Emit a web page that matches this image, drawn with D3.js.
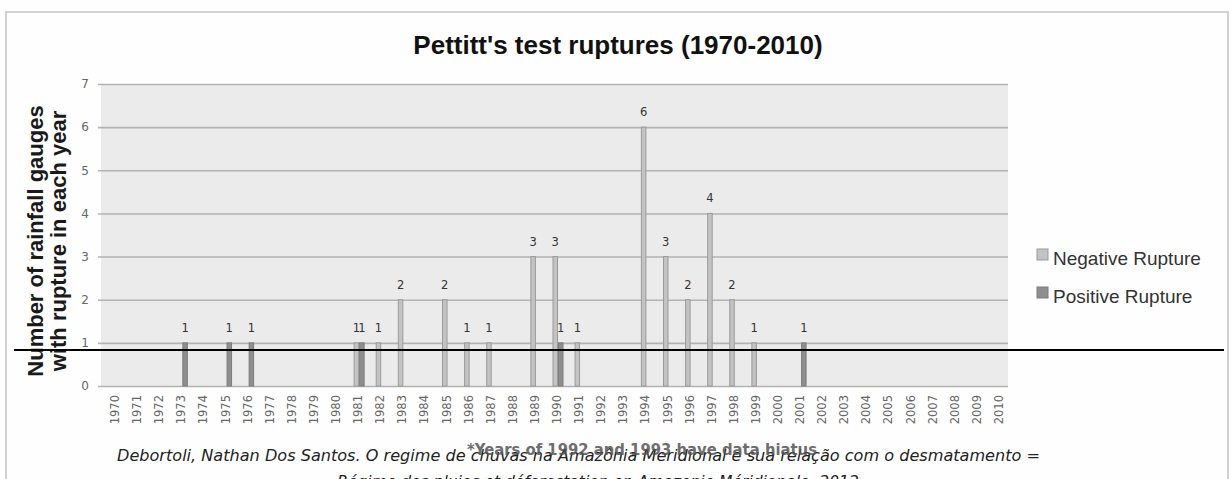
<!DOCTYPE html>
<html>
<head>
<meta charset="utf-8">
<script src="https://cdn.jsdelivr.net/npm/d3@7"></script>
<style>
  html, body { margin: 0; padding: 0; background: #fff; }
  svg { display: block; }
</style>
</head>
<body>
<svg id="chart" width="1232" height="479"></svg>
<script>
// categories (x axis tick labels)
const years = ["1970","1971","1972","1973","1974","1975","1976","1977","1978","1979",
  "1980","1981","1982","1983","1984","1985","1986","1987","1988","1989",
  "1990","1991","1992","1993","1994","1995","1996","1997","1998","1999",
  "2000","2001","2002","2003","2004","2005","2006","2007","2008","2009","2010"];

// series: years with a rupture and the number of gauges
const negativeYears  = ["1981","1982","1983","1985","1986","1987","1989","1990","1991","1994","1995","1996","1997","1998","1999"];
const negativeValues = [1, 1, 2, 2, 1, 1, 3, 3, 1, 6, 3, 2, 4, 2, 1];
const positiveYears  = ["1973","1975","1976","1981","1990","2001"];
const positiveValues = [1, 1, 1, 1, 1, 1];

const seriesNames = ["Negative Rupture", "Positive Rupture"];
const yTicks = [0, 1, 2, 3, 4, 5, 6, 7];

const svg = d3.select("#chart");
const W = 1232, H = 479;
const plot = { left: 101, right: 1008, top: 84, bottom: 386 };

svg.append("rect").attr("width", W).attr("height", H).attr("fill", "#fefefe");

// outer chart frame
svg.append("rect")
  .attr("x", 6).attr("y", 12)
  .attr("width", 1222).attr("height", 480)
  .attr("fill", "none").attr("stroke", "#d2d2d2").attr("stroke-width", 2);

// title
svg.append("text")
  .attr("x", 618).attr("y", 54)
  .attr("text-anchor", "middle")
  .style("font-family", "'Liberation Sans', Arial, sans-serif")
  .style("font-weight", "bold").style("font-size", "26px")
  .attr("fill", "#111")
  .text("Pettitt's test ruptures (1970-2010)");

// scales
const x = d3.scaleBand()
  .domain(years)
  .range([plot.left + 3, plot.right + 2])
  .padding(0);

const xSub = d3.scaleBand()
  .domain(seriesNames)
  .range([x.bandwidth() / 2 - 4.5, x.bandwidth() / 2 + 6.5]);

const y = d3.scaleLinear()
  .domain([0, 7])
  .range([plot.bottom, plot.top]);

// plot background
svg.append("rect")
  .attr("x", plot.left).attr("y", plot.top)
  .attr("width", plot.right - plot.left).attr("height", plot.bottom - plot.top)
  .attr("fill", "#ebebeb");

// gridlines + y axis
const yAxis = svg.append("g")
  .attr("transform", `translate(${plot.left},0)`)
  .call(d3.axisLeft(y).tickValues(yTicks).tickFormat(d3.format("d"))
    .tickSize(-(plot.right - plot.left)).tickPadding(12));
yAxis.select(".domain").remove();
yAxis.selectAll(".tick line")
  .attr("x1", -3)
  .attr("stroke", "#b3b3b3").attr("stroke-width", 1.6);
yAxis.selectAll(".tick text")
  .style("font-family", "'DejaVu Sans', Verdana, sans-serif")
  .style("font-size", "12px")
  .attr("fill", "#666");

// x axis labels
const xAxis = svg.append("g")
  .attr("transform", `translate(0,${plot.bottom})`)
  .call(d3.axisBottom(x).tickSize(0));
xAxis.select(".domain").remove();
xAxis.selectAll(".tick text")
  .attr("transform", "rotate(-90)")
  .attr("text-anchor", "end")
  .attr("x", -9).attr("y", 0).attr("dy", "0.35em")
  .style("font-family", "'DejaVu Sans', Verdana, sans-serif")
  .style("font-size", "11.5px")
  .attr("fill", "#666");

// y axis title
const yTitle = svg.append("text")
  .attr("transform", "translate(43,241) rotate(-90)")
  .attr("text-anchor", "middle")
  .style("font-family", "'Liberation Sans', Arial, sans-serif")
  .style("font-weight", "bold").style("font-size", "22px")
  .attr("fill", "#1a1a1a");
yTitle.append("tspan").attr("x", 0).attr("dy", 0).text("Number of rainfall gauges");
yTitle.append("tspan").attr("x", 0).attr("dy", 23).text("with rupture in each year");

// bars
const negData = negativeYears.map((yr, i) => ({ year: yr, value: negativeValues[i], series: seriesNames[0] }));
const posData = positiveYears.map((yr, i) => ({ year: yr, value: positiveValues[i], series: seriesNames[1] }));
const fills = { "Negative Rupture": "#c3c3c3", "Positive Rupture": "#8e8e8e" };
const strokes = { "Negative Rupture": "#9a9a9a", "Positive Rupture": "#7d7d7d" };

const allData = negData.concat(posData);

svg.append("g").selectAll("rect")
  .data(allData)
  .enter()
  .append("rect")
  .attr("x", d => x(d.year) + xSub(d.series) + 0.5)
  .attr("y", d => y(d.value))
  .attr("width", xSub.bandwidth() - 1)
  .attr("height", d => y(0) - y(d.value))
  .attr("fill", d => fills[d.series])
  .attr("stroke", d => strokes[d.series])
  .attr("stroke-width", 1);

// value labels
svg.append("g").selectAll("text")
  .data(allData)
  .enter()
  .append("text")
  .attr("x", d => x(d.year) + xSub(d.series) + xSub.bandwidth() / 2)
  .attr("y", d => y(d.value) - 11)
  .attr("text-anchor", "middle")
  .style("font-family", "'DejaVu Sans', Verdana, sans-serif")
  .style("font-size", "11.5px")
  .attr("fill", "#333")
  .text(d => d.value);

// legend
const legend = svg.append("g").attr("transform", "translate(1037,249)");
seriesNames.forEach((name, i) => {
  const g = legend.append("g").attr("transform", `translate(0,${i * 38})`);
  g.append("rect")
    .attr("width", 11).attr("height", 11)
    .attr("fill", fills[name]).attr("stroke", strokes[name]);
  g.append("text")
    .attr("x", 16).attr("y", 16)
    .style("font-family", "'Liberation Sans', Arial, sans-serif")
    .style("font-size", "19px")
    .attr("fill", "#333")
    .text(name);
});

// source note
svg.append("text")
  .attr("x", 117).attr("y", 461)
  .attr("textLength", 923).attr("lengthAdjust", "spacingAndGlyphs")
  .style("font-family", "'DejaVu Sans', Verdana, sans-serif")
  .style("font-style", "italic").style("font-size", "15.5px")
  .attr("fill", "#222")
  .text("Debortoli,  Nathan Dos Santos. O regime de chuvas na Amazônia Meridional e sua relação com o desmatamento =");
svg.append("text")
  .attr("x", 598).attr("y", 487)
  .attr("text-anchor", "middle")
  .style("font-family", "'DejaVu Sans', Verdana, sans-serif")
  .style("font-style", "italic").style("font-size", "15.5px")
  .attr("fill", "#222")
  .text("Régime des pluies et déforestation en Amazonie Méridionale, 2012");

// hiatus footnote
svg.append("text")
  .attr("x", 467).attr("y", 455)
  .attr("textLength", 350).attr("lengthAdjust", "spacingAndGlyphs")
  .style("font-family", "'DejaVu Sans', Verdana, sans-serif")
  .style("font-weight", "bold").style("font-size", "16px")
  .attr("fill", "#555").attr("opacity", 0.85)
  .text("*Years of 1992 and 1993 have data hiatus");

// horizontal black rule across the chart
svg.append("line")
  .attr("x1", 14).attr("x2", 1224)
  .attr("y1", 350).attr("y2", 350)
  .attr("stroke", "#000").attr("stroke-width", 2);
</script>
</body>
</html>
